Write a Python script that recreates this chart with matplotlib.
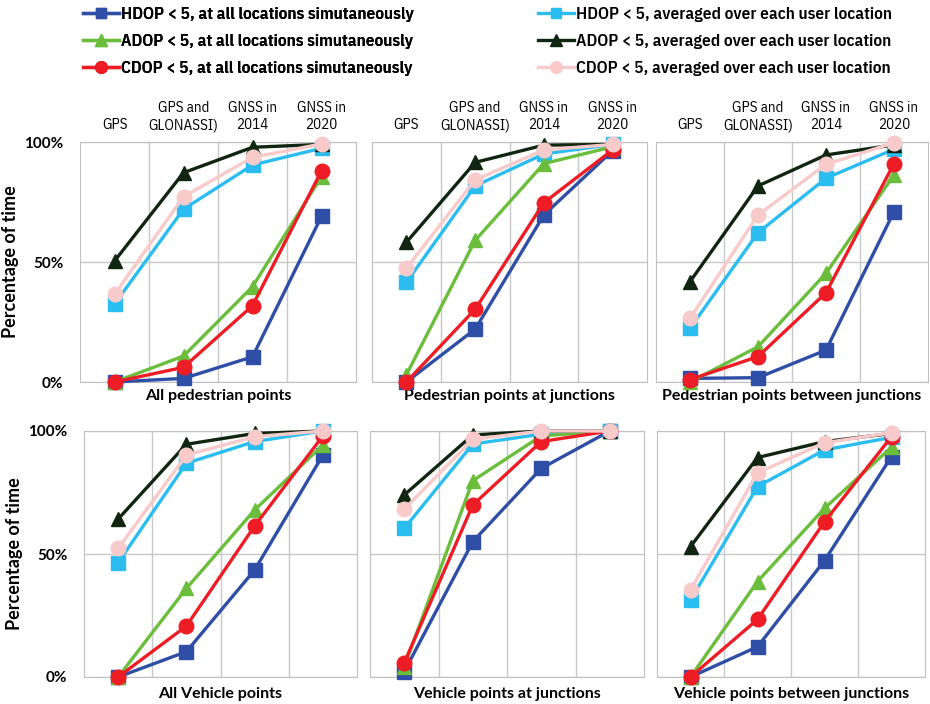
import matplotlib
matplotlib.use('Agg')
from matplotlib import pyplot as plt

# categories along the x axis (shown on top of the upper panels)
categories = ['GPS', 'GPS and\nGLONASSI)', 'GNSS in\n2014', 'GNSS in\n2020']

panel_titles = ['All pedestrian points', 'Pedestrian points at junctions',
                'Pedestrian points between junctions', 'All Vehicle points',
                'Vehicle points at junctions', 'Vehicle points between junctions']

series_names = ['HDOP < 5, at all locations simutaneously',
                'HDOP < 5, averaged over each user location',
                'ADOP < 5, at all locations simutaneously',
                'ADOP < 5, averaged over each user location',
                'CDOP < 5, at all locations simutaneously',
                'CDOP < 5, averaged over each user location']

# values in percent, one list per panel, per series
hdop_all = [[0, 1.5, 10.5, 69], [0, 22, 69.6, 96.4], [1.5, 1.8, 13.3, 71],
            [0, 10.3, 43.5, 90.2], [2.2, 55, 84.8, 100], [0, 12.3, 47.3, 89.6]]
hdop_avg = [[32.5, 72, 90.4, 97.4], [41.5, 81.7, 95, 99], [22.4, 62.2, 84.9, 97],
            [46.5, 86.9, 95.7, 100], [60.4, 94.7, 98.7, 100], [31.3, 77.4, 92.3, 97.4]]
adop_all = [[0, 10.8, 39.7, 85.6], [3, 59, 91, 98], [0, 14.7, 45.3, 86.3],
            [0, 36, 67.9, 94.3], [4.2, 79.8, 98, 100], [0, 38.8, 68.6, 93.4]]
adop_avg = [[50.4, 87.2, 97.8, 99], [58.2, 91.5, 98.7, 99], [41.8, 81.7, 94.6, 98.8],
            [64.2, 94.6, 99, 100], [74, 98.4, 100, 100], [53, 89.2, 95.7, 99]]
cdop_all = [[0, 6.1, 31.8, 88], [0, 30.3, 74.7, 96.7], [1, 10.6, 37.2, 91],
            [0, 20.7, 61.4, 98], [5.8, 69.9, 95.7, 100], [0, 23.4, 63.1, 97.7]]
cdop_avg = [[36.5, 77.2, 93.6, 99.2], [47.4, 84.2, 96.7, 99], [26.5, 69.6, 90.7, 99.7],
            [52.3, 90.2, 97.7, 100], [68.2, 96.6, 100, 100], [35.4, 83, 95.2, 99.3]]

all_series = [hdop_all, hdop_avg, adop_all, adop_avg, cdop_all, cdop_avg]
colors = ['#2F4EA6', '#2CBDF0', '#6BBE3B', '#102610', '#EE1D25', '#F8CACA']
markers = ['s', 's', '^', '^', 'o', 'o']
msizes = [9.5, 9.5, 10.5, 10.5, 10.5, 10.5]

narrow = ['IBM Plex Sans Condensed', 'Open Sans Condensed', 'DejaVu Sans']
boldfont = ['Lato', 'DejaVu Sans']

fig = plt.figure(figsize=(9.3, 7.04), dpi=100)
W, H = 930.0, 704.0

# pixel boxes of the panels: (left, right, top, bottom)
boxes = [(80, 356, 142, 382), (372, 647, 142, 382), (656, 928, 142, 382),
         (84, 357, 431, 677), (370, 644, 431, 677), (657, 925, 431, 677)]

handles = []
for p, (l, r, t, b) in enumerate(boxes):
    ax = fig.add_axes([l / W, 1 - b / H, (r - l) / W, (b - t) / H])
    x = range(len(categories))
    for s, data in enumerate(all_series):
        line, = ax.plot(x, data[p], color=colors[s], marker=markers[s],
                        markersize=msizes[s], linewidth=2.4, clip_on=False,
                        zorder=3 + s)
        if p == 0:
            handles.append(line)
    ax.set_xlim(-0.5, 3.5)
    ax.set_ylim(0, 100)
    ax.set_xticks([0.5, 1.5, 2.5], minor=True)
    ax.set_yticks([0, 50, 100])
    ax.grid(True, which='minor', axis='x', color='#C8C8C8', linewidth=1)
    ax.grid(True, which='major', axis='y', color='#C8C8C8', linewidth=1)
    for sp in ax.spines.values():
        sp.set_color('#C0C0C0')
    ax.tick_params(which='both', length=0)
    ax.set_xticks(list(x))
    if p < 3:
        ax.xaxis.tick_top()
        ax.set_xticklabels(categories, family=narrow, fontsize=10.8,
                           linespacing=1.3)
        ax.tick_params(axis='x', pad=7)
        pad = 5
    else:
        ax.set_xticklabels([])
        pad = 4
    ax.set_xlabel(panel_titles[p], family=boldfont, fontweight='bold',
                  fontsize=11.5, labelpad=pad)
    ax.xaxis.set_label_position('bottom')
    if p % 3 == 0:
        ax.set_yticklabels(['0%', '50%', '100%'], family=boldfont,
                           fontweight='bold', fontsize=11)
        ax.tick_params(axis='y', pad=12)
        ax.set_ylabel('Percentage of time', family=boldfont, fontweight='bold',
                      fontsize=13, labelpad=4)
    else:
        ax.set_yticklabels([])

legend_style = dict(frameon=False, loc='upper left', borderpad=0,
                    borderaxespad=0, handlelength=2.1, handletextpad=0.1,
                    labelspacing=0.69, markerscale=0.8,
                    prop={'family': narrow, 'weight': 600, 'size': 12.4})
leg1 = fig.legend([handles[i] for i in (0, 2, 4)],
                  [series_names[i] for i in (0, 2, 4)],
                  bbox_to_anchor=(83 / W, 1 - 7 / H), **legend_style)
fig.add_artist(leg1)
fig.legend([handles[i] for i in (1, 3, 5)],
           [series_names[i] for i in (1, 3, 5)],
           bbox_to_anchor=(538 / W, 1 - 7 / H), **legend_style)

fig.savefig('out.png', dpi=100)
